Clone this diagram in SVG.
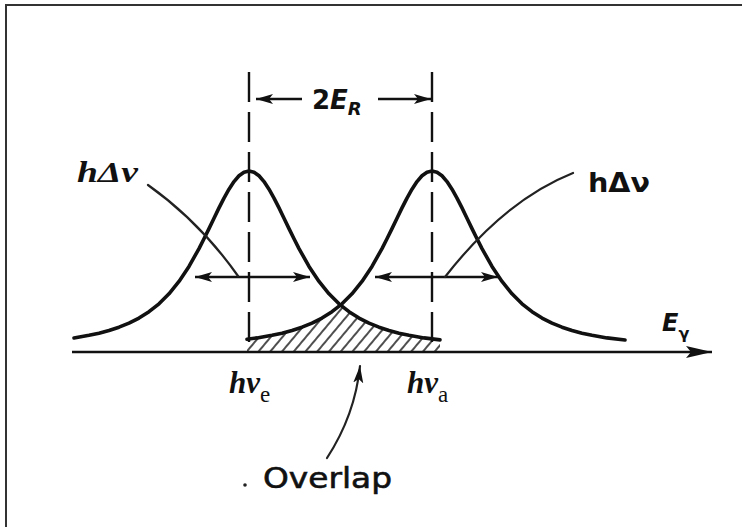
<svg xmlns="http://www.w3.org/2000/svg" width="742" height="527" viewBox="0 0 742 527">
<defs>
<style>
.curve{fill:none;stroke:#111;stroke-width:3.6;stroke-linejoin:round;stroke-linecap:round}
.dash{fill:none;stroke:#111;stroke-width:2.4;stroke-dasharray:30 10}
.ln{fill:none;stroke:#111;stroke-width:2.4}
.lead{fill:none;stroke:#222;stroke-width:2.2;stroke-linecap:round}
.lbl{font-family:"Liberation Serif","DejaVu Serif",serif;font-weight:bold;font-style:italic;fill:#111}
.up{font-family:"DejaVu Sans","Liberation Sans",sans-serif;font-weight:bold;fill:#111}
.sans{font-family:"DejaVu Sans","Liberation Sans",sans-serif;fill:#111}
</style>
<marker id="ah" markerUnits="userSpaceOnUse" markerWidth="20" markerHeight="12" refX="17" refY="6" orient="auto-start-reverse">
<path d="M0,1 L17,6 L0,11 L4,6 Z" fill="#111"/>
</marker>
<marker id="axh" markerUnits="userSpaceOnUse" markerWidth="28" markerHeight="14" refX="26" refY="7" orient="auto">
<path d="M0,1 L26,7 L0,13 L5,7 Z" fill="#111"/>
</marker>
<pattern id="hatch" patternUnits="userSpaceOnUse" width="9" height="10" patternTransform="rotate(40)">
<line x1="1" y1="0" x2="1" y2="10" stroke="#222" stroke-width="1.6"/>
</pattern>
<clipPath id="ovl">
<path d="M247,339.2 L257,337.9 L272,335.3 L282,333.2 L292,330.5 L302,327.2 L312,323.2 L322,318.1 L332,311.7 L340.5,303.7 L349,311.7 L359,318.1 L369,323.2 L379,327.2 L389,330.5 L399,333.2 L409,335.3 L424,337.9 L440,339.9 L440,352 L247,352 Z"/>
</clipPath>
</defs>
<rect width="742" height="527" fill="#fff"/>
<path d="M6,527 V5 H742" fill="none" stroke="#333" stroke-width="2"/>

<g id="overlap-region">
<rect x="240" y="295" width="210" height="60" fill="url(#hatch)" clip-path="url(#ovl)"/>
</g>

<g id="emission-line">
<path class="curve" d="M74,338 L89,335.3 L99,333.2 L109,330.5 L119,327.2 L129,323.2 L139,318.1 L149,311.7 L159,303.8 L169,293.8 L179,281.4 L189,266.4 L199,248.6 L204,238.8 L209,228.6 L214,218.2 L219,207.9 L224,198.1 L229,189.2 L234,181.6 L239,175.8 L244,172.2 L249,171 L254,172.2 L259,175.8 L264,181.6 L269,189.2 L274,198.1 L279,207.9 L284,218.2 L289,228.6 L294,238.8 L299,248.6 L309,266.4 L319,281.4 L329,293.8 L339,303.8 L349,311.7 L359,318.1 L369,323.2 L379,327.2 L389,330.5 L399,333.2 L409,335.3 L424,337.9 L440,339.9"/>
</g>
<g id="absorption-line">
<path class="curve" d="M247,339.2 L257,337.9 L272,335.3 L282,333.2 L292,330.5 L302,327.2 L312,323.2 L322,318.1 L332,311.7 L342,303.8 L352,293.8 L362,281.4 L372,266.4 L382,248.6 L387,238.8 L392,228.6 L397,218.2 L402,207.9 L407,198.1 L412,189.2 L417,181.6 L422,175.8 L427,172.2 L432,171 L437,172.2 L442,175.8 L447,181.6 L452,189.2 L457,198.1 L462,207.9 L467,218.2 L472,228.6 L477,238.8 L482,248.6 L492,266.4 L502,281.4 L512,293.8 L522,303.8 L532,311.7 L542,318.1 L552,323.2 L562,327.2 L572,330.5 L582,333.2 L592,335.3 L607,337.9 L625,340"/>
</g>

<g id="connectors">
<line class="ln" x1="72" y1="352" x2="712" y2="352" stroke-width="2.8" marker-end="url(#axh)"/>
<line class="dash" x1="249" y1="72" x2="249" y2="352"/>
<line class="dash" x1="432" y1="72" x2="432" y2="352"/>
<line class="ln" x1="256" y1="99" x2="302" y2="99" marker-start="url(#ah)"/>
<line class="ln" x1="378" y1="99" x2="431" y2="99" marker-end="url(#ah)"/>
<line class="ln" x1="195" y1="277" x2="310" y2="277" marker-start="url(#ah)" marker-end="url(#ah)"/>
<line class="ln" x1="375" y1="277" x2="498" y2="277" marker-start="url(#ah)" marker-end="url(#ah)"/>
<path class="lead" d="M148,185 Q200,222 238,276"/>
<path class="lead" d="M573,173 Q505,200 445,277"/>
<path class="lead" d="M327,458 Q355,415 360,366" marker-end="url(#ah)"/>
</g>

<g id="label-2ER">
<text class="sans" x="312" y="109" font-size="26" font-weight="bold">2<tspan font-style="italic">E</tspan><tspan font-size="18" font-style="italic" dy="6">R</tspan></text>
</g>
<g id="label-hdv-left">
<text class="lbl" x="77" y="182" font-size="29" textLength="61" lengthAdjust="spacingAndGlyphs">hΔν</text>
</g>
<g id="label-hdv-right">
<text class="up" x="588" y="192" font-size="26" textLength="62" lengthAdjust="spacingAndGlyphs">hΔν</text>
</g>
<g id="label-Egamma">
<text class="sans" x="662" y="331" font-size="24" font-weight="bold" font-style="italic">E<tspan font-size="16" dy="8" font-style="normal">γ</tspan></text>
</g>
<g id="label-hve">
<text class="lbl" x="229" y="393" font-size="31">hν<tspan font-style="normal" font-weight="normal" font-size="23" dy="9">e</tspan></text>
</g>
<g id="label-hva">
<text class="lbl" x="407" y="393" font-size="31">hν<tspan font-style="normal" font-weight="normal" font-size="23" dy="9">a</tspan></text>
</g>
<g id="label-overlap">
<circle cx="245" cy="485" r="1.8" fill="#222"/>
<text class="sans" x="263" y="488" font-size="28" stroke="#111" stroke-width="0.6" textLength="129" lengthAdjust="spacingAndGlyphs">Overlap</text>
</g>
</svg>
